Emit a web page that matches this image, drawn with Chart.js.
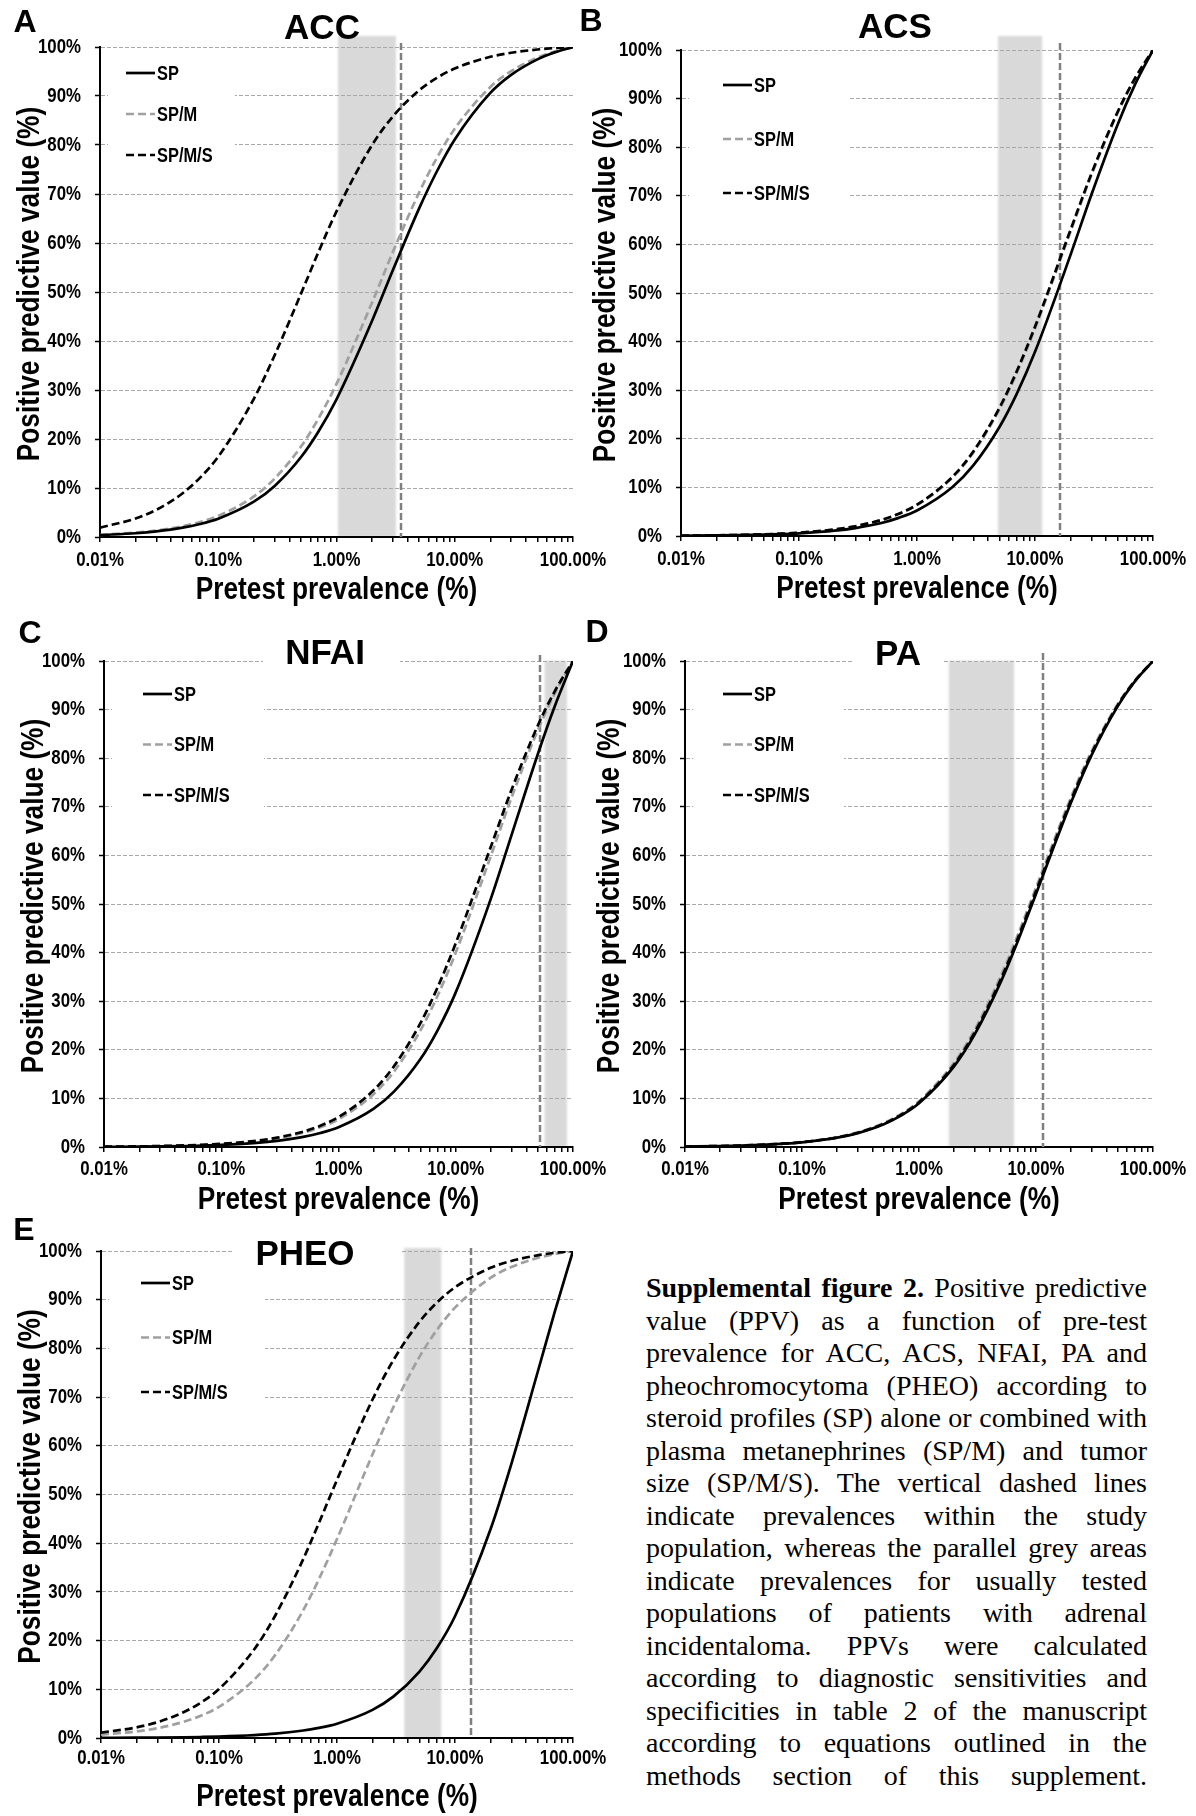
<!DOCTYPE html>
<html>
<head>
<meta charset="utf-8">
<script src="https://cdn.jsdelivr.net/npm/chart.js@4.4.1/dist/chart.umd.min.js"></script>
<style>
  html, body { margin: 0; padding: 0; background: #fff; }
  body { width: 1196px; height: 1816px; position: relative; overflow: hidden; }
  canvas { position: absolute; }
  #caption { position: absolute; left: 646px; top: 1272px; width: 501px;
    font-family: 'Liberation Serif', 'Times New Roman', serif; font-size: 28px;
    line-height: 32.5px; color: #000; }
  #caption div { text-align: justify; text-align-last: justify; }
</style>
</head>
<body>
<div id="caption">
  <div><b>Supplemental figure 2.</b> Positive predictive</div>
  <div>value (PPV) as a function of pre-test</div>
  <div>prevalence for ACC, ACS, NFAI, PA and</div>
  <div>pheochromocytoma (PHEO) according to</div>
  <div>steroid profiles (SP) alone or combined with</div>
  <div>plasma metanephrines (SP/M) and tumor</div>
  <div>size (SP/M/S). The vertical dashed lines</div>
  <div>indicate prevalences within the study</div>
  <div>population, whereas the parallel grey areas</div>
  <div>indicate prevalences for usually tested</div>
  <div>populations of patients with adrenal</div>
  <div>incidentaloma. PPVs were calculated</div>
  <div>according to diagnostic sensitivities and</div>
  <div>specificities in table 2 of the manuscript</div>
  <div>according to equations outlined in the</div>
  <div>methods section of this supplement.</div>
</div>
<script>
// pretest prevalence (%) at which the PPV was read
const prevalence = [0.01, 0.02, 0.03, 0.05, 0.07, 0.1, 0.2, 0.3, 0.5, 0.7, 1, 2, 3, 5, 7, 10, 20, 30, 50, 70, 100];
const seriesNames = ['SP', 'SP/M', 'SP/M/S'];

// ACC
const accSP   = [0.39, 0.77, 1.15, 1.90, 2.64, 3.73, 7.20, 10.43, 16.28, 21.43, 28.10, 44.13, 54.48, 67.07, 74.44, 81.13, 90.63, 94.31, 97.48, 98.90, 100];
const accSPM  = [0.45, 0.89, 1.33, 2.20, 3.05, 4.31, 8.27, 11.93, 18.44, 24.08, 31.25, 47.87, 58.19, 70.31, 77.21, 83.33, 91.84, 95.07, 97.83, 99.06, 100];
const accSPMS = [1.92, 3.77, 5.55, 8.93, 12.07, 16.40, 28.20, 37.10, 49.62, 58.02, 66.44, 80.00, 85.84, 91.16, 93.65, 95.61, 98.00, 98.82, 99.49, 99.78, 100];
// ACS
const acsSP   = [0.05, 0.11, 0.16, 0.27, 0.38, 0.55, 1.09, 1.63, 2.68, 3.73, 5.25, 10.08, 14.52, 22.42, 29.24, 37.89, 57.85, 70.18, 84.59, 92.76, 100];
const acsSPM  = [0.07, 0.13, 0.20, 0.33, 0.47, 0.67, 1.32, 1.98, 3.26, 4.51, 6.34, 12.03, 17.16, 26.07, 33.52, 42.68, 62.62, 74.17, 87.01, 93.99, 100];
const acsSPMS = [0.07, 0.14, 0.20, 0.34, 0.47, 0.68, 1.35, 2.01, 3.31, 4.58, 6.44, 12.20, 17.40, 26.39, 33.89, 43.07, 62.99, 74.48, 87.20, 94.08, 100];
// NFAI
const nfaiSP   = [0.04, 0.08, 0.13, 0.21, 0.29, 0.42, 0.83, 1.25, 2.07, 2.88, 4.07, 7.89, 11.50, 18.10, 24.02, 31.82, 51.22, 64.29, 80.77, 90.74, 100];
const nfaiSPM  = [0.06, 0.12, 0.18, 0.30, 0.42, 0.60, 1.19, 1.77, 2.93, 4.06, 5.71, 10.91, 15.65, 24.00, 31.11, 40.00, 60.00, 72.00, 85.71, 93.33, 100];
const nfaiSPMS = [0.07, 0.13, 0.20, 0.33, 0.46, 0.65, 1.29, 1.92, 3.16, 4.38, 6.16, 11.71, 16.74, 25.49, 32.85, 41.94, 61.90, 73.58, 86.67, 93.81, 100];
// PA
const paSP   = [0.10, 0.20, 0.29, 0.49, 0.68, 0.97, 1.92, 2.86, 4.68, 6.45, 8.99, 16.64, 23.22, 33.98, 42.40, 52.08, 70.97, 80.74, 90.72, 95.80, 100];
const paSPM  = [0.10, 0.21, 0.31, 0.51, 0.72, 1.02, 2.02, 3.01, 4.92, 6.77, 9.42, 17.37, 24.16, 35.15, 43.67, 53.37, 72.03, 81.53, 91.15, 96.00, 100];
const paSPMS = [0.10, 0.20, 0.30, 0.50, 0.70, 0.99, 1.96, 2.92, 4.78, 6.58, 9.17, 16.95, 23.62, 34.48, 42.95, 52.63, 71.43, 81.08, 90.91, 95.89, 100];
// PHEO
const pheoSP   = [0.03, 0.06, 0.09, 0.15, 0.21, 0.30, 0.60, 0.89, 1.49, 2.07, 2.94, 5.77, 8.49, 13.64, 18.42, 25.00, 42.86, 56.25, 75.00, 87.50, 100];
const pheoSPM  = [0.68, 1.35, 2.01, 3.31, 4.57, 6.41, 12.05, 17.07, 25.58, 32.53, 40.86, 58.26, 67.90, 78.26, 83.74, 88.37, 94.48, 96.70, 98.56, 99.38, 100];
const pheoSPMS = [1.10, 2.19, 3.24, 5.29, 7.25, 10.06, 18.29, 25.16, 35.95, 44.05, 53.01, 69.51, 77.55, 85.46, 89.37, 92.54, 96.54, 97.95, 99.11, 99.62, 100];

const panelLetters = ['A', 'B', 'C', 'D', 'E'];
const panelTitles = ['ACC', 'ACS', 'NFAI', 'PA', 'PHEO'];
const panelSeries = [
  [accSP, accSPM, accSPMS],
  [acsSP, acsSPM, acsSPMS],
  [nfaiSP, nfaiSPM, nfaiSPMS],
  [paSP, paSPM, paSPMS],
  [pheoSP, pheoSPM, pheoSPMS],
];
// prevalence in the study population (dashed line) and usual range (grey band), in %
const studyPrevalence = [3.51, 16.3, 52, 11.5, 13.7];
const usualLow = [1.03, 4.86, 57.3, 1.80, 3.72];
const usualHigh = [3.18, 11.5, 88.7, 6.49, 7.65];

const xTickValues = [0.01, 0.1, 1, 10, 100];
const xTickLabels = ['0.01%', '0.10%', '1.00%', '10.00%', '100.00%'];
const minorSteps = [1, 2, 3, 4, 5, 6, 7, 8, 9];

const xTitle = 'Pretest prevalence (%)';
const yTitle = 'Positive predictive value (%)';

// styling
const seriesColors = ['#000000', '#a0a0a0', '#000000'];
const seriesDash = [[], [8, 4], [8, 4]];
const seriesOrder = [1, 2, 0];
const sans = '"Liberation Sans", Arial, sans-serif';
const SQUEEZE = 0.82; // the figure uses a narrow face; no narrow font here, so squeeze

// page layout: plot areas [left, top, right, bottom] and decorations relative to them
const PL = 110, PT = 45, PR = 40, PB = 90;
const boxes = [
  { area: [100, 47, 573, 537], letter: [-75, -24], title: [222, -18], titleBox: null, legend: { x: 26, y: 26, gap: 41, w: 135 }, bandUp: 11, lineUp: 4, yt: -70, xl: 23, xt: 53 },
  { area: [681, 50, 1153, 536], letter: [-90, -28], title: [214, -22], titleBox: null, legend: { x: 42, y: 35, gap: 54, w: 167 }, bandUp: 14, lineUp: 7, yt: -75, xl: 23, xt: 53 },
  { area: [104, 661, 573, 1147], letter: [-74, -27], title: [221, -7], titleBox: [159, 296], legend: { x: 39, y: 33, gap: 50.5, w: 160 }, bandUp: 0, lineUp: 6, yt: -70, xl: 22, xt: 53 },
  { area: [685, 661, 1153, 1147], letter: [-88, -28], title: [213, -6], titleBox: [169, 259], legend: { x: 38, y: 33, gap: 50.5, w: 159 }, bandUp: 0, lineUp: 8, yt: -75, xl: 22, xt: 53 },
  { area: [101, 1251, 573, 1738], letter: [-77, -20], title: [204, 4], titleBox: [132, 301], legend: { x: 40, y: 32, gap: 54.5, w: 164 }, bandUp: 3, lineUp: 3, yt: -70, xl: 20, xt: 59 },
];

const xTickAll = [];
xTickValues.forEach((d, i) => {
  if (i === xTickValues.length - 1) { xTickAll.push(d); return; }
  minorSteps.forEach(m => xTickAll.push(d * m));
});

function squeezed(ctx, text, x, y, size, align, rotate) {
  ctx.save();
  ctx.translate(x, y);
  if (rotate) ctx.rotate(-Math.PI / 2);
  ctx.scale(SQUEEZE, 1);
  ctx.font = 'bold ' + size + 'px ' + sans;
  ctx.fillStyle = '#000';
  ctx.textAlign = align;
  ctx.textBaseline = 'middle';
  ctx.fillText(text, 0, 0);
  ctx.restore();
}

// grey band, dashed study line, titles, legend, axis text
const decor = {
  id: 'decor',
  beforeDraw(chart, args, o) {
    const { ctx, chartArea: a, scales: { x } } = chart;
    const x1 = x.getPixelForValue(o.band[0]);
    const x2 = x.getPixelForValue(o.band[1]);
    ctx.save();
    ctx.filter = 'blur(1px)';
    ctx.fillStyle = '#d9d9d9';
    ctx.fillRect(x1, a.top - o.bandUp, x2 - x1, a.bottom - a.top + o.bandUp);
    ctx.restore();
  },
  beforeDatasetsDraw(chart, args, o) {
    const { ctx, chartArea: a, scales: { x } } = chart;
    const px = Math.round(x.getPixelForValue(o.study));
    ctx.save();
    ctx.strokeStyle = '#808080';
    ctx.lineWidth = 2.5;
    ctx.setLineDash([7, 3]);
    ctx.beginPath();
    ctx.moveTo(px, a.top - o.lineUp);
    ctx.lineTo(px, a.bottom);
    ctx.stroke();
    ctx.restore();
  },
  afterDraw(chart, args, o) {
    const { ctx, chartArea: a, scales: { x, y } } = chart;
    ctx.save();
    // tick labels
    y.ticks.forEach(t => squeezed(ctx, t.value + '%', a.left - 19, y.getPixelForValue(t.value), 20.5, 'right'));
    xTickValues.forEach((v, i) => squeezed(ctx, xTickLabels[i], x.getPixelForValue(v), a.bottom + o.xl, 20.5, 'center'));
    // axis titles
    squeezed(ctx, xTitle, (a.left + a.right) / 2, a.bottom + o.xt, 32, 'center');
    squeezed(ctx, yTitle, a.left + o.yt, (a.top + a.bottom) / 2 - 8, 32, 'center', true);
    // panel title
    const tx = a.left + o.title[0], ty = a.top + o.title[1];
    if (o.titleBox) {
      ctx.fillStyle = '#fff';
      ctx.fillRect(a.left + o.titleBox[0], ty - 20, o.titleBox[1] - o.titleBox[0], 40);
    }
    ctx.fillStyle = '#000';
    ctx.textAlign = 'center';
    ctx.textBaseline = 'middle';
    ctx.font = 'bold 35px ' + sans;
    ctx.fillText(o.text, tx, ty);
    // panel letter
    ctx.font = 'bold 32px ' + sans;
    ctx.fillText(o.letterText, a.left + o.letter[0], a.top + o.letter[1]);
    // legend with white background
    const lg = o.legend;
    ctx.fillStyle = '#fff';
    ctx.fillRect(a.left + 8, a.top + lg.y - 18, lg.w - 8, lg.gap * 2 + 36);
    chart.data.datasets.forEach((ds, i) => {
      const ly = a.top + lg.y + i * lg.gap;
      const x0 = a.left + lg.x;
      ctx.strokeStyle = ds.borderColor;
      ctx.lineWidth = ds.borderWidth;
      ctx.setLineDash(ds.borderDash);
      ctx.beginPath();
      ctx.moveTo(x0, ly);
      ctx.lineTo(x0 + 29, ly);
      ctx.stroke();
      ctx.setLineDash([]);
      squeezed(ctx, ds.label, x0 + 31, ly + 1, 20, 'left');
    });
    ctx.restore();
  }
};

boxes.forEach((b, p) => {
  const [L, T, R, B] = b.area;
  const canvas = document.createElement('canvas');
  canvas.width = R - L + PL + PR;
  canvas.height = B - T + PT + PB;
  canvas.style.left = (L - PL) + 'px';
  canvas.style.top = (T - PT) + 'px';
  document.body.appendChild(canvas);

  new Chart(canvas.getContext('2d'), {
    type: 'line',
    data: {
      labels: prevalence,
      datasets: panelSeries[p].map((vals, i) => ({
        label: seriesNames[i],
        data: vals,
        borderColor: seriesColors[i],
        borderWidth: 2.7,
        borderDash: seriesDash[i],
        order: seriesOrder[i],
        pointRadius: 0,
        fill: false,
        cubicInterpolationMode: 'monotone',
      })),
    },
    options: {
      responsive: false,
      animation: false,
      events: [],
      layout: { padding: { left: 0, top: PT, right: PR, bottom: 0 } },
      plugins: {
        legend: { display: false },
        tooltip: { enabled: false },
        decor: {
          band: [usualLow[p], usualHigh[p]],
          study: studyPrevalence[p],
          bandUp: b.bandUp,
          lineUp: b.lineUp,
          text: panelTitles[p],
          letterText: panelLetters[p],
          letter: b.letter,
          title: b.title,
          titleBox: b.titleBox,
          legend: b.legend,
          yt: b.yt,
          xl: b.xl,
          xt: b.xt,
        },
      },
      scales: {
        x: {
          type: 'logarithmic',
          min: 0.01,
          max: 100,
          afterBuildTicks(s) { s.ticks = xTickAll.map(v => ({ value: v })); },
          afterFit(s) { s.height = PB; },
          grid: { drawOnChartArea: false, tickLength: 5, color: '#000', lineWidth: 1.5 },
          border: { color: '#000', width: 2 },
          ticks: { display: false, autoSkip: false, maxRotation: 0 },
        },
        y: {
          min: 0,
          max: 100,
          afterFit(s) { s.width = PL; },
          grid: {
            color: c => (c.tick && c.tick.value === 0 ? 'rgba(0,0,0,0)' : '#a8a8a8'),
            lineWidth: 1,
            tickLength: 5,
            tickColor: '#000',
            tickWidth: 1.5,
          },
          border: { color: '#000', width: 2, dash: [4, 2] },
          ticks: { display: false, stepSize: 10 },
        },
      },
    },
    plugins: [decor],
  });
});
</script>
</body>
</html>
